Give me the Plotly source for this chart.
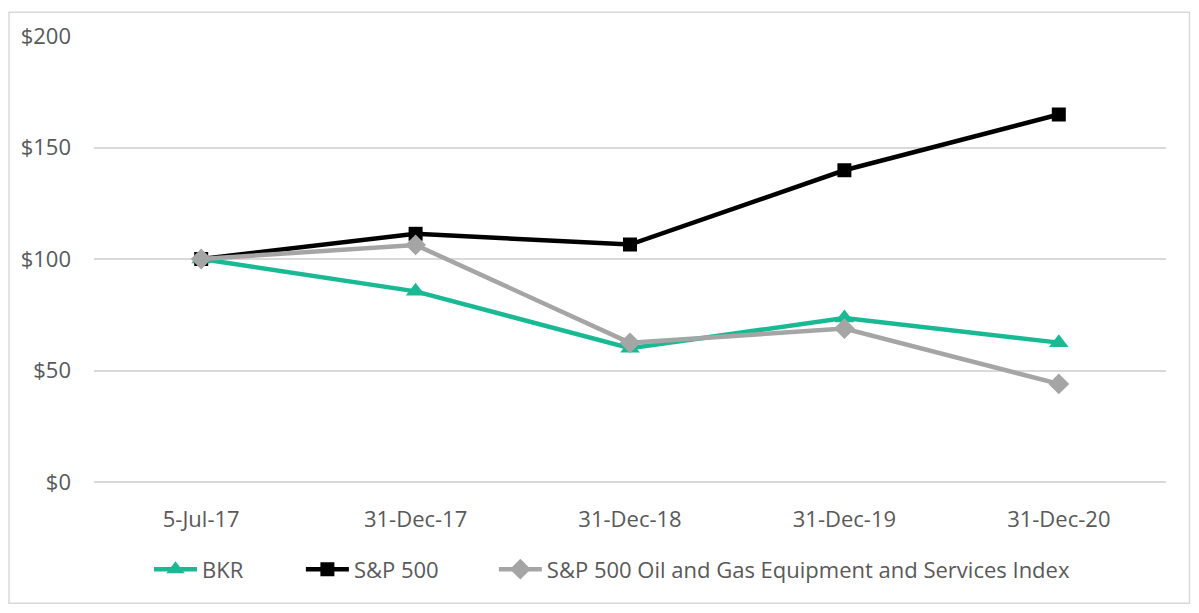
import plotly.graph_objects as go

categories = ["5-Jul-17", "31-Dec-17", "31-Dec-18", "31-Dec-19", "31-Dec-20"]
bkr = [100, 85.5, 60, 73.5, 62.5]
sp500 = [100, 111.3, 106.5, 139.8, 164.8]
oges = [100, 106.3, 62.4, 68.8, 44]
y_ticks = [0, 50, 100, 150, 200]
y_tick_labels = ["$0", "$50", "$100", "$150", "$200"]

FONT = "Open Sans"
TXT = "#595959"
FS = 22

fig = go.Figure()
fig.add_trace(go.Scatter(x=categories, y=bkr, name="BKR", mode="lines+markers",
                         line=dict(color="#19B994", width=4.5),
                         marker=dict(symbol="triangle-up", size=17, color="#19B994"),
                         legend="legend", showlegend=True))
fig.add_trace(go.Scatter(x=categories, y=sp500, name="S&P 500", mode="lines+markers",
                         line=dict(color="#000000", width=4.5),
                         marker=dict(symbol="square", size=14, color="#000000"),
                         legend="legend2", showlegend=True))
fig.add_trace(go.Scatter(x=categories, y=oges, name="S&P 500 Oil and Gas Equipment and Services Index",
                         mode="lines+markers",
                         line=dict(color="#A5A5A5", width=4.5),
                         marker=dict(symbol="diamond", size=16, color="#A5A5A5"),
                         legend="legend3", showlegend=True))

def leg(x):
    return dict(orientation="h", x=x, xanchor="left", y=-0.196, yanchor="middle",
                font=dict(family=FONT, size=FS, color=TXT), itemwidth=43,
                bgcolor="rgba(0,0,0,0)", visible=True)

fig.update_layout(
    width=1183, height=597,
    margin=dict(l=86, r=24.5, t=25, b=123),
    paper_bgcolor="white", plot_bgcolor="white",
    showlegend=True,
    font=dict(family=FONT, size=FS, color=TXT),
    legend=leg(0.0513), legend2=leg(0.1930), legend3=leg(0.3730),
    shapes=[dict(type="rect", xref="paper", yref="paper", x0=-0.0793, x1=1.0219, y0=-0.2717, y1=1.0535,
                 line=dict(color="#D9D9D9", width=1.5))],
)
fig.update_xaxes(type="category", showgrid=False, showline=False, zeroline=False,
                 ticks="", ticklabelstandoff=22, range=[-0.5, 4.5],
                 tickfont=dict(family=FONT, size=FS, color=TXT))
fig.update_yaxes(range=[0, 200], tickvals=y_ticks, ticktext=y_tick_labels,
                 showgrid=True, gridcolor="#D9D9D9", gridwidth=1.5,
                 zeroline=True, zerolinecolor="#D9D9D9", zerolinewidth=1.5,
                 showline=False, ticks="", ticklabelstandoff=22,
                 tickfont=dict(family=FONT, size=FS, color=TXT))

fig.write_html("out.html")
